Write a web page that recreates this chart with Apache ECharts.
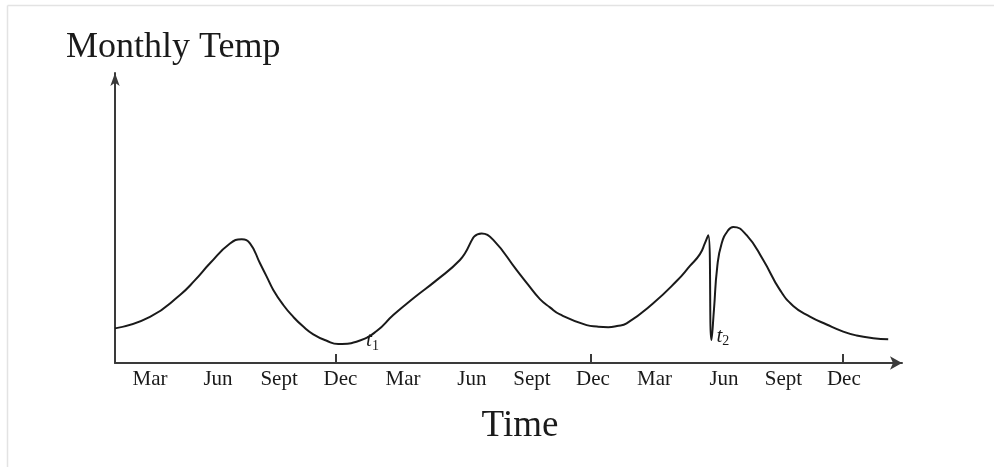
<!DOCTYPE html>
<html><head><meta charset="utf-8">
<script src="https://cdn.jsdelivr.net/npm/echarts@6/dist/echarts.min.js"></script>
<style>html,body{margin:0;padding:0;background:#fff}#c{width:994px;height:467px}</style>
</head><body><div id="c"></div>
<script>
// Time in months (Jan of year 1 = 1), temperature in arbitrary units
const months = [1.6, 3.255, 4.674, 5.383, 6.092, 7.038, 7.591, 7.984, 8.457, 8.774, 9.086, 9.559, 10.031, 10.504, 10.977, 11.611, 12.159, 13.186, 13.975, 14.760, 15.786, 16.812, 17.914, 18.940, 19.489, 20.596, 21.144, 21.697, 22.170, 22.643, 23.906, 24.393, 24.927, 25.339, 25.797, 27.055, 28.162, 28.791, 29.264, 29.500, 29.656, 29.808, 29.926, 30.082, 30.290, 30.602, 30.838, 31.472, 32.257, 33.046, 33.675, 34.465, 35.255, 36.040, 36.673, 37.458, 38.168];
const temps  = [11.7, 15.6, 23.0, 28.0, 33.7, 40.4, 41.8, 40.4, 33.7, 29.2, 24.7, 19.6, 15.6, 12.3, 9.7, 7.5, 6.4, 7.6, 10.8, 16.2, 22.3, 28.0, 34.8, 43.8, 41.6, 31.4, 26.4, 21.6, 18.8, 16.4, 12.8, 12.3, 12.1, 12.5, 13.4, 20.2, 27.7, 32.8, 36.8, 40.5, 43.2, 7.8, 17.9, 32.5, 40.4, 44.9, 46.0, 43.2, 34.8, 24.7, 19.3, 15.7, 13.0, 10.6, 9.3, 8.4, 8.0];
const tickLabels  = ["Mar","Jun","Sept","Dec","Mar","Jun","Sept","Dec","Mar","Jun","Sept","Dec"];
const labelMonths = [3.26, 6.47, 9.36, 12.26, 15.22, 18.48, 21.32, 24.20, 27.12, 30.40, 33.21, 36.07];
const decTicks    = [12.05, 24.11, 36.04];
const annNames  = ["t1", "t2"];
const annMonths = [13.50, 30.07];
const annTemps  = [7.3, 8.8];
const yTitle = "Monthly Temp";
const xTitle = "Time";

const SERIF = "'Liberation Serif','DejaVu Serif',serif";
const AX = '#3a3a3a';
const chart = echarts.init(document.getElementById('c'), null, {renderer:'canvas'});
chart.setOption({
  animation:false,
  backgroundColor:'#fff',
  grid:{left:115, right:92, top:73, bottom:104},
  xAxis:{type:'value', min:1.6, max:38.82,
    axisLine:{show:true, onZero:false, symbol:['none','arrow'], symbolSize:[10,12], lineStyle:{color:AX, width:2}},
    axisTick:{show:true, inside:true, length:9, customValues:decTicks, lineStyle:{color:AX, width:2}},
    axisLabel:{show:true, customValues:labelMonths,
      formatter:function(v){ const i = labelMonths.indexOf(v); return i>=0 ? tickLabels[i] : ''; },
      margin:16, verticalAlign:'middle', fontFamily:SERIF, fontSize:21, color:'#1a1a1a'},
    splitLine:{show:false}},
  yAxis:{type:'value', min:0, max:98,
    axisLine:{show:true, onZero:false, symbol:['none','arrow'], symbolSize:[7,13], lineStyle:{color:AX, width:2}},
    axisTick:{show:false}, axisLabel:{show:false}, splitLine:{show:false}},
  series:[{
    type:'line', data:months.map((m,i)=>[m,temps[i]]), smooth:0.5, symbol:'none', silent:true,
    lineStyle:{color:'#1a1a1a', width:2},
    markPoint:{
      symbol:'circle', symbolSize:1, silent:true, itemStyle:{color:'rgba(0,0,0,0)'},
      label:{show:true, position:[0,0], align:'left', verticalAlign:'middle',
        formatter:function(p){ return '{t|t}{s|' + p.name.slice(1) + '}'; },
        rich:{
          t:{fontFamily:SERIF, fontStyle:'italic', fontSize:21, color:'#1a1a1a'},
          s:{fontFamily:SERIF, fontSize:14, color:'#1a1a1a', padding:[10,0,0,0]}
        }},
      data:annNames.map((n,i)=>({name:n, coord:[annMonths[i], annTemps[i]]}))
    }
  }],
  graphic:[
    {type:'line', silent:true, shape:{x1:7.5,y1:5.5,x2:994,y2:5.5}, style:{stroke:'#e3e3e3', lineWidth:1.5}},
    {type:'line', silent:true, shape:{x1:7.5,y1:5.5,x2:7.5,y2:467}, style:{stroke:'#e3e3e3', lineWidth:1.5}},
    {type:'text', silent:true, x:66, y:48, style:{text:yTitle, fontFamily:SERIF, fontSize:36, fill:'#1a1a1a', align:'left', verticalAlign:'middle'}},
    {type:'text', silent:true, x:520, y:426.5, style:{text:xTitle, fontFamily:SERIF, fontSize:37, fill:'#1a1a1a', align:'center', verticalAlign:'middle'}}
  ]
});
</script></body></html>
